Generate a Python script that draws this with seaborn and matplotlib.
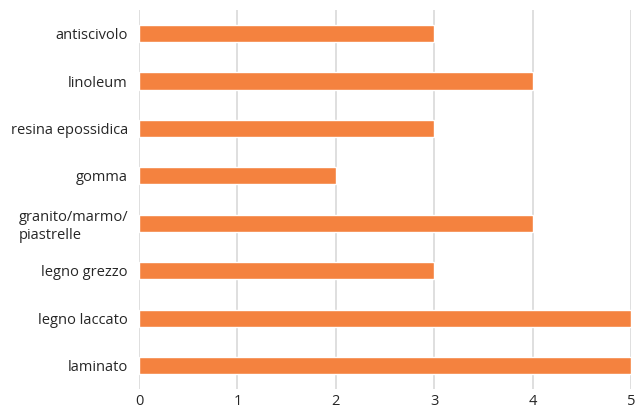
import pandas as pd
import seaborn as sns
import matplotlib.pyplot as plt

categories = ["antiscivolo", "linoleum", "resina epossidica", "gomma",
              "granito/marmo/\npiastrelle", "legno grezzo", "legno laccato", "laminato"]
values = [3, 4, 3, 2, 4, 3, 5, 5]
xticks = [0, 1, 2, 3, 4, 5]

df = pd.DataFrame({"categoria": categories, "valore": values})

sns.set_style("white")
plt.rcParams["font.family"] = ["Open Sans", "DejaVu Sans"]

fig = plt.figure(figsize=(6.38, 4.12), dpi=100)
ax = fig.add_axes([0.218, 0.055, 0.771, 0.921])

sns.barplot(data=df, x="valore", y="categoria", color="#F4823F",
            saturation=1, width=0.36, ax=ax)

ax.set_xlim(0, 5)
ax.set_xticks(xticks)
ax.set_xlabel("")
ax.set_ylabel("")
ax.grid(axis="x", color="#D9D9D9", linewidth=1.2)
ax.set_axisbelow(True)
for s in ax.spines.values():
    s.set_visible(False)
ax.tick_params(axis="both", length=0, labelsize=10.5, colors="#262626")
ax.tick_params(axis="y", pad=8)
ax.tick_params(axis="x", pad=3)
for lbl in ax.get_yticklabels():
    lbl.set_multialignment("left")

fig.savefig("out.png", dpi=100)
